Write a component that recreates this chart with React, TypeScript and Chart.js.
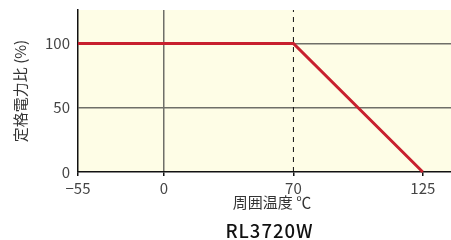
import React, { useEffect, useRef } from "react";
import { Chart, registerables } from "chart.js";
Chart.register(...registerables);

const TEMP_TICKS = [-55, 0, 70, 125];
const POWER_TICKS = [0, 50, 100];
const CURVE_TEMPS = [-55, 70, 125];
const CURVE_POWER = [100, 100, 0];
const KNEE_TEMP = 70;
const Y_MAX = 126;
const X_TITLE = "周囲温度 ℃";
const Y_TITLE = "定格電力比 (%)";
const MODEL = "RL3720W";

// Non-uniform axis: slot position of each tick temperature
const AXIS_SLOTS = [-0.665, 0, 1, 2];
const X_END_SLOT = 2.218;

const FONT = '"Noto Sans CJK JP", "Noto Sans", sans-serif';
const GRID = "#6f6f68";
const RED = "#c8202e";
const BG = "#fefde6";

function slot(t: number): number {
  const n = TEMP_TICKS.length;
  for (let i = 0; i < n - 1; i++) {
    const a = TEMP_TICKS[i];
    const b = TEMP_TICKS[i + 1];
    if (t <= b || i === n - 2) {
      return AXIS_SLOTS[i] + ((t - a) / (b - a)) * (AXIS_SLOTS[i + 1] - AXIS_SLOTS[i]);
    }
  }
  return 0;
}

function fmtTemp(t: number): string {
  return t < 0 ? "\u2212" + Math.abs(t) : String(t);
}

const bgPlugin = {
  id: "bgPlugin",
  beforeDraw(chart: any) {
    const { ctx, chartArea } = chart;
    ctx.save();
    ctx.fillStyle = BG;
    ctx.fillRect(chartArea.left, chartArea.top, chartArea.right - chartArea.left, chartArea.bottom - chartArea.top);
    ctx.restore();
  },
};

const textPlugin = {
  id: "textPlugin",
  afterDraw(chart: any) {
    const { ctx } = chart;
    ctx.save();
    ctx.textAlign = "center";
    ctx.textBaseline = "middle";
    ctx.fillStyle = "#333";
    ctx.font = `15px ${FONT}`;
    ctx.fillText(X_TITLE, 272, 202);
    ctx.fillStyle = "#111";
    ctx.font = `500 18.5px ${FONT}`;
    (ctx as any).letterSpacing = "1px";
    ctx.fillText(MODEL, 269.5, 230.5);
    ctx.restore();
  },
};

export default function App() {
  const ref = useRef<HTMLCanvasElement | null>(null);
  useEffect(() => {
    if (!ref.current) return;
    const zeroSlot = slot(0);
    const chart = new Chart(ref.current, {
      type: "line",
      data: {
        datasets: [
          {
            data: CURVE_TEMPS.map((t, i) => ({ x: slot(t), y: CURVE_POWER[i] })),
            borderColor: RED,
            borderWidth: 3,
            pointRadius: 0,
            tension: 0,
            clip: false as any,
            order: 0,
          },
          {
            data: [
              { x: slot(KNEE_TEMP), y: 0 },
              { x: slot(KNEE_TEMP), y: Y_MAX },
            ],
            borderColor: "#111",
            borderWidth: 1,
            borderDash: [5, 5],
            pointRadius: 0,
            order: 1,
          },
        ],
      },
      options: {
        animation: false,
        responsive: false,
        devicePixelRatio: 1,
        layout: { padding: { top: 10, left: 0, right: 0, bottom: 0 } },
        plugins: { legend: { display: false }, tooltip: { enabled: false } },
        scales: {
          x: {
            type: "linear",
            min: slot(TEMP_TICKS[0]),
            max: X_END_SLOT,
            afterBuildTicks: (s: any) => {
              s.ticks = TEMP_TICKS.map((t) => ({ value: slot(t) }));
            },
            afterFit: (s: any) => {
              s.height = 68;
              s.paddingLeft = 0;
              s.paddingRight = 0;
            },
            ticks: {
              autoSkip: false,
              maxRotation: 0,
              padding: 3,
              color: "#444",
              font: { family: FONT, size: 15 },
              callback: (_v: any, i: number) => fmtTemp(TEMP_TICKS[i]),
            },
            grid: {
              color: (c: any) =>
                c.tick && Math.abs(c.tick.value - zeroSlot) < 1e-6 ? GRID : "rgba(0,0,0,0)",
              lineWidth: 1.5,
              tickColor: "#111",
              tickLength: 4,
              tickWidth: 1.5,
            },
            border: { color: "#111", width: 1.5 },
          },
          y: {
            type: "linear",
            min: 0,
            max: Y_MAX,
            afterBuildTicks: (s: any) => {
              s.ticks = POWER_TICKS.map((v) => ({ value: v }));
            },
            afterFit: (s: any) => {
              s.width = 78;
              s.paddingTop = 0;
              s.paddingBottom = 0;
            },
            ticks: {
              padding: 8,
              color: "#444",
              font: { family: FONT, size: 15 },
            },
            grid: {
              color: (c: any) => (c.tick && c.tick.value === 0 ? "rgba(0,0,0,0)" : GRID),
              lineWidth: 1.5,
              drawTicks: false,
            },
            border: { color: "#111", width: 1.5 },
            title: {
              display: true,
              text: Y_TITLE,
              color: "#333",
              font: { family: FONT, size: 15 },
              padding: { top: 11, bottom: 0 },
            },
          },
        },
      },
      plugins: [bgPlugin, textPlugin],
    });
    return () => chart.destroy();
  }, []);
  return (
    <div style={{ position: "fixed", left: 0, top: 0, width: 451, height: 240, background: "#fff" }}>
      <canvas ref={ref} width={451} height={240} style={{ display: "block" }} />
    </div>
  );
}
